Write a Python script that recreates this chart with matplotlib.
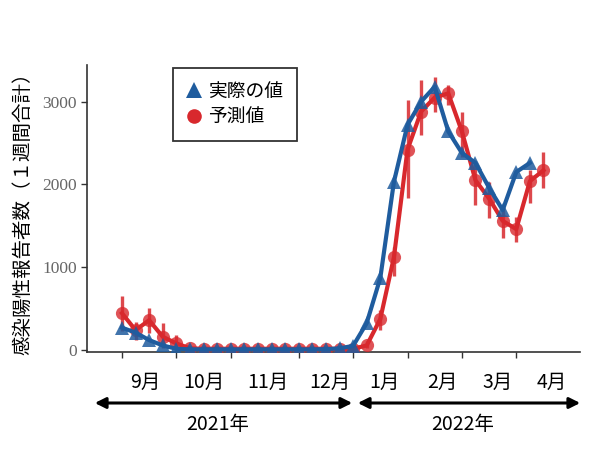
import numpy as np
import matplotlib
matplotlib.use("Agg")
import matplotlib.pyplot as plt

plt.rcParams['font.family'] = ['Noto Sans CJK JP', 'DejaVu Sans']

# ---------------------------------------------------------------
# data (weekly, week 0 = start of Sep 2021)
# ---------------------------------------------------------------
actual_weeks = np.arange(31)
actual = [270, 210, 120, 55, 15, 8, 8, 8, 8, 8, 8, 8, 8, 8, 8, 10, 20,
          50, 325, 870, 2030, 2720, 3000, 3180, 2640, 2380, 2260, 1960,
          1690, 2150, 2260]

pred_weeks = np.arange(32)
pred = [445, 240, 360, 160, 80, 20, 15, 15, 15, 15, 15, 15, 15, 15, 15,
        15, 15, 15, 55, 375, 1120, 2420, 2880, 3050, 3100, 2640, 2050,
        1830, 1560, 1460, 2040, 2170]
pred_lo = [230, 120, 200, 25, 0, 0, 0, 0, 0, 0, 0, 0, 0, 0, 0,
           0, 0, 0, 20, 240, 900, 1840, 2600, 2880, 2960, 2330, 1750,
           1600, 1350, 1300, 1780, 1960]
pred_hi = [650, 340, 510, 330, 180, 50, 40, 40, 40, 40, 40, 40, 40, 40, 40,
           40, 40, 40, 110, 480, 1250, 3020, 3260, 3300, 3200, 2880, 2250,
           2030, 1730, 1610, 2180, 2390]

tick_weeks = [0, 4, 8, 13, 17, 21, 25, 29]
month_labels = ['9月', '10月', '11月', '12月', '1月', '2月', '3月', '4月']
month_pos = [1.7, 6.0, 10.7, 15.3, 19.3, 23.6, 27.6, 31.6]
year_labels = ['2021年', '2022年']
y_ticks = [0, 1000, 2000, 3000]

BLUE = '#1f5c9e'
RED = '#d8282d'

fig = plt.figure(figsize=(6.0, 4.51), dpi=100)
ax = fig.add_axes([0.145, 0.2195, 0.822, 0.637])

yerr = [np.array(pred) - np.array(pred_lo), np.array(pred_hi) - np.array(pred)]
ax.errorbar(pred_weeks, pred, yerr=yerr, fmt='none', ecolor=RED,
            elinewidth=2.4, alpha=0.85, zorder=2)
ax.plot(pred_weeks, pred, color=RED, lw=3.0, zorder=3)
ax.plot(pred_weeks, pred, 'o', color=RED, ms=9.5, alpha=0.8, mew=0,
        zorder=3)
ax.plot(actual_weeks, actual, color=BLUE, lw=3.0, zorder=4)
ax.plot(actual_weeks, actual, '^', color=BLUE, ms=10.5, alpha=0.85, mew=0,
        zorder=4)

ax.set_xlim(-2.57, 33.7)
ax.set_ylim(-24, 3446)
ax.set_xticks(tick_weeks)
ax.set_xticklabels([])
ax.set_yticks(y_ticks)
ax.set_yticklabels([str(v) for v in y_ticks], family='Liberation Serif',
                   fontsize=12.5, color='#666666')
ax.tick_params(axis='both', length=4, width=1, color='#333333')
for side in ['top', 'right']:
    ax.spines[side].set_visible(False)
for side in ['left', 'bottom']:
    ax.spines[side].set_color('#333333')
    ax.spines[side].set_linewidth(1.2)

ax.set_ylabel('感染陽性報告者数（１週間合計）', fontsize=14, labelpad=6)

# month labels below axis
for lab, w in zip(month_labels, month_pos):
    ax.text(w, -0.105, lab, transform=ax.get_xaxis_transform(),
            ha='center', va='center', fontsize=14)

# year arrows
y_arr = 1 - 403 / 451
x_split = 355 / 600
fig.patches.append(matplotlib.patches.FancyArrowPatch(
    (92 / 600, y_arr), (x_split, y_arr), transform=fig.transFigure,
    arrowstyle='<|-|>', mutation_scale=16, lw=2.2, color='black'))
fig.patches.append(matplotlib.patches.FancyArrowPatch(
    (x_split, y_arr), (583 / 600, y_arr), transform=fig.transFigure,
    arrowstyle='<|-|>', mutation_scale=16, lw=2.2, color='black'))
fig.text(218 / 600, 1 - 425 / 451, year_labels[0], ha='center', va='center',
         fontsize=14)
fig.text(463 / 600, 1 - 425 / 451, year_labels[1], ha='center', va='center',
         fontsize=14)

# legend
h1, = ax.plot([], [], '^', color=BLUE, ms=11, mew=0)
h2, = ax.plot([], [], 'o', color=RED, ms=10.5, mew=0)
leg = ax.legend([h1, h2], ['実際の値', '予測値'], loc='upper left',
                bbox_to_anchor=(0.174, 0.99), borderaxespad=0, fontsize=13.5,
                frameon=True, fancybox=False, handlelength=0.9,
                handletextpad=0.3, labelspacing=0.25, borderpad=0.7)
leg.get_frame().set_edgecolor('black')
leg.get_frame().set_linewidth(1.3)

fig.savefig('out.png', dpi=100)
